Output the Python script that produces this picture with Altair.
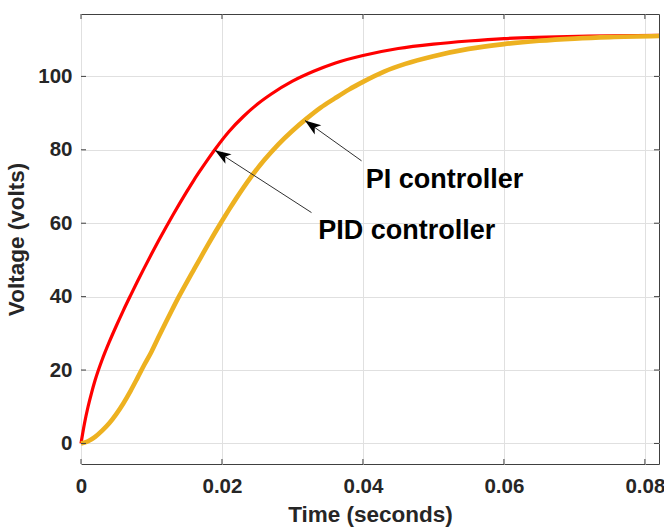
import altair as alt
import pandas as pd

# Step responses of the output voltage (time in s, voltage in V)
t_pid = [0, 0.0005, 0.001, 0.0015, 0.002, 0.003, 0.004, 0.005, 0.006,
         0.007, 0.008, 0.009, 0.010, 0.011, 0.012, 0.013, 0.014, 0.015, 0.016,
         0.017, 0.018, 0.019, 0.021, 0.023, 0.025, 0.027, 0.030, 0.033, 0.036,
         0.040, 0.045, 0.050, 0.055, 0.060, 0.066, 0.072, 0.082]
v_pid = [0, 5.5, 10, 13.8, 17.2, 22.8, 27.6, 32, 36.2,
         40.2, 44.1, 47.9, 51.6, 55.2, 58.7, 62.1, 65.4, 68.6, 71.7,
         74.6, 77.4, 80.1, 85.0, 89.0, 92.4, 95.2, 98.7, 101.4, 103.6,
         105.7, 107.6, 108.8, 109.65, 110.3, 110.7, 111.0, 111.2]

t_pi = [0, 0.001, 0.002, 0.003, 0.004, 0.005, 0.006, 0.007, 0.008, 0.009,
        0.010, 0.011, 0.012, 0.013, 0.014, 0.015, 0.016, 0.017, 0.018, 0.019,
        0.020, 0.021, 0.022, 0.024, 0.026, 0.028, 0.030, 0.032, 0.034, 0.036,
        0.038, 0.040, 0.043, 0.046, 0.050, 0.055, 0.060, 0.065, 0.070, 0.075, 0.082]
v_pi = [0, 0.6, 1.8, 3.5, 5.5, 8, 10.9, 14.2, 17.8, 21.5,
        25, 29, 32.9, 36.7, 40.4, 43.9, 47.3, 50.7, 54.1, 57.4,
        60.6, 63.7, 66.7, 72.3, 77.2, 81.5, 85.2, 88.5, 91.5, 94.0,
        96.4, 98.5, 101.3, 103.4, 105.5, 107.5, 108.8, 109.7, 110.3, 110.7, 111.0]

x_ticks = [0, 0.02, 0.04, 0.06, 0.08]
y_ticks = [0, 20, 40, 60, 80, 100]
x_range = [0, 0.082]
y_range = [-5.6, 117]

# Callout labels and their arrows (data coordinates)
labels = ["PI controller", "PID controller"]
label_t = [0.0404, 0.03366]
label_v = [69.6, 55.7]
tail_t = [0.0398, 0.0327]
tail_v = [77.0, 62.9]
tip_t = [0.03177, 0.0190]
tip_v = [88.0, 79.9]
head_angle = [305.7, 302.8]

FONT = "Liberation Sans"
W, H = 578, 450

pid_df = pd.DataFrame({"t": t_pid, "v": v_pid, "i": range(len(t_pid))})
pi_df = pd.DataFrame({"t": t_pi, "v": v_pi, "i": range(len(t_pi))})

xs = alt.Scale(domain=x_range, nice=False, zero=False)
ys = alt.Scale(domain=y_range, nice=False, zero=False)

x_axis = alt.Axis(
    values=x_ticks, title="Time (seconds)", grid=True, domain=False, ticks=False,
    labelExpr="datum.value == 0 ? '0' : format(datum.value, '.2f')",
    labelFlush=False, labelPadding=12, titlePadding=7,
)
y_axis = alt.Axis(
    values=y_ticks, title="Voltage (volts)", grid=True, domain=False, ticks=False,
    labelFlush=False, labelPadding=9, titlePadding=9,
)

red = alt.Chart(pid_df).mark_line(color="#ff0000", strokeWidth=3.2, interpolate="monotone").encode(
    x=alt.X("t:Q", scale=xs, axis=x_axis), y=alt.Y("v:Q", scale=ys, axis=y_axis), order="i:Q"
)
yellow = alt.Chart(pi_df).mark_line(color="#edb120", strokeWidth=4.6, interpolate="monotone").encode(
    x=alt.X("t:Q", scale=xs), y=alt.Y("v:Q", scale=ys), order="i:Q"
)

# inward tick marks on all four sides of the box
tick_dx = (x_range[1] - x_range[0]) * 5 / W
tick_dy = (y_range[1] - y_range[0]) * 5 / H
bottom_ticks = pd.DataFrame({"t": x_ticks, "a": y_range[0], "b": y_range[0] + tick_dy})
top_ticks = pd.DataFrame({"t": x_ticks, "a": y_range[1], "b": y_range[1] - tick_dy})
left_ticks = pd.DataFrame({"v": y_ticks, "a": x_range[0], "b": x_range[0] + tick_dx})
right_ticks = pd.DataFrame({"v": y_ticks, "a": x_range[1], "b": x_range[1] - tick_dx})

tick_color = "#404040"
tick_layers = []
for df in (bottom_ticks, top_ticks):
    tick_layers.append(alt.Chart(df).mark_rule(color=tick_color, strokeWidth=1).encode(
        x=alt.X("t:Q", scale=xs), y=alt.Y("a:Q", scale=ys), y2="b:Q"))
for df in (left_ticks, right_ticks):
    tick_layers.append(alt.Chart(df).mark_rule(color=tick_color, strokeWidth=1).encode(
        y=alt.Y("v:Q", scale=ys), x=alt.X("a:Q", scale=xs), x2="b:Q"))

ann = pd.DataFrame({
    "label": labels, "lt": label_t, "lv": label_v,
    "t0": tail_t, "v0": tail_v, "t1": tip_t, "v1": tip_v, "ang": head_angle,
})

arrow_lines = alt.Chart(ann).mark_rule(color="#303030", strokeWidth=1).encode(
    x=alt.X("t0:Q", scale=xs), y=alt.Y("v0:Q", scale=ys), x2="t1:Q", y2="v1:Q"
)
arrow_heads = alt.Chart(ann).mark_point(
    shape="M0,0L-0.7,2L0,1.5L0.7,2Z", filled=True, color="#000000", opacity=1, size=260
).encode(
    x=alt.X("t1:Q", scale=xs), y=alt.Y("v1:Q", scale=ys), angle=alt.Angle("ang:Q", scale=None)
)
texts = alt.Chart(ann).mark_text(
    align="left", baseline="alphabetic", font=FONT, fontWeight="bold", fontSize=27, color="#000000"
).encode(
    x=alt.X("lt:Q", scale=xs), y=alt.Y("lv:Q", scale=ys), text="label:N"
)

chart = alt.layer(red, yellow, *tick_layers, arrow_lines, arrow_heads, texts).properties(
    width=W, height=H,
    padding={"left": 81, "top": 14, "right": 5, "bottom": 63},
    autosize="none",
    background="#ffffff",
).configure_view(
    stroke="#404040", strokeWidth=1
).configure_axis(
    labelFont=FONT, labelFontWeight="bold", labelFontSize=20.5, labelColor="#262626",
    titleFont=FONT, titleFontWeight="bold", titleFontSize=22.5, titleColor="#262626",
    gridColor="#e0e0e0", gridWidth=1,
)

chart.save("out.html", embed_options={"renderer": "svg", "actions": False})
